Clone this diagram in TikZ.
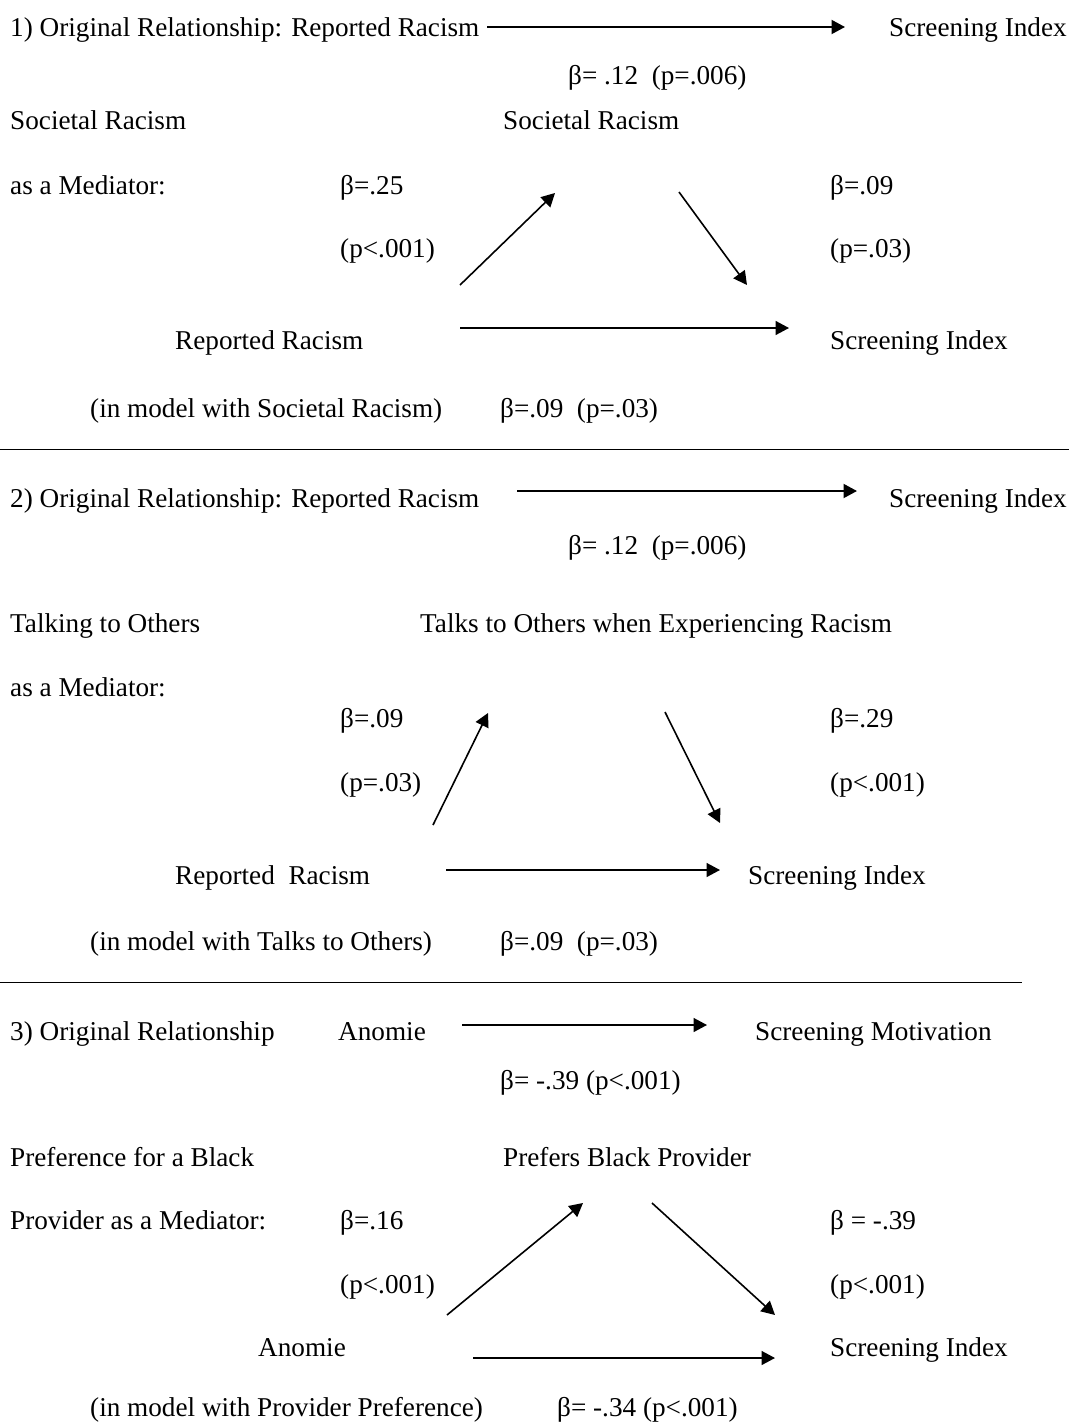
\documentclass[tikz,border=0pt]{standalone}
\usepackage{fontspec}
\setmainfont{Liberation Serif}
\usetikzlibrary{arrows.meta}

\begin{document}
\begin{tikzpicture}[x=1pt, y=-1pt,
    lbl/.style={anchor=base west, inner sep=0pt, font=\fontsize{27.2}{32}\selectfont},
    arr/.style={-{Triangle[length=13.5pt, width=14pt]}, line width=1.6pt},
    arrthick/.style={arr, line width=2pt},
    rule/.style={line width=1pt}]
  \useasboundingbox (0,0) rectangle (1069,1422);

  % Panel 1: Societal Racism
  \node[lbl] (orig1) at (10,36) {1) Original Relationship: Reported Racism};
  \node[lbl] (scr1) at (889,36) {Screening Index};
  \node[lbl] (beta1) at (568,84) {β= .12~~(p=.006)};
  \node[lbl] (soc1) at (10,129) {Societal Racism};
  \node[lbl] (socmed) at (503,129) {Societal Racism};
  \node[lbl] (asmed1) at (10,194) {as a Mediator:};
  \node[lbl] (ba1) at (340,194) {β=.25};
  \node[lbl] (bb1) at (830,194) {β=.09};
  \node[lbl] (pa1) at (340,257) {(p<.001)};
  \node[lbl] (pb1) at (830,257) {(p=.03)};
  \node[lbl] (rep1) at (175,349) {Reported Racism};
  \node[lbl] (scrm1) at (830,349) {Screening Index};
  \node[lbl] (model1) at (90,417) {(in model with Societal Racism)};
  \node[lbl] (bc1) at (500,417) {β=.09~~(p=.03)};
  \coordinate (o1s) at (487,27);  \coordinate (o1e) at (845,27);
  \coordinate (u1s) at (460,285); \coordinate (u1e) at (555,193);
  \coordinate (d1s) at (679,192); \coordinate (d1e) at (747,285);
  \coordinate (h1s) at (460,328); \coordinate (h1e) at (789,328);
  \draw[arrthick] (o1s) -- (o1e);
  \draw[arr] (u1s) -- (u1e);
  \draw[arr] (d1s) -- (d1e);
  \draw[arr] (h1s) -- (h1e);
  \coordinate (r1s) at (0,449); \coordinate (r1e) at (1069,449);
  \draw[rule] (r1s) -- (r1e);

  % Panel 2: Talking to Others
  \node[lbl] (orig2) at (10,507) {2) Original Relationship: Reported Racism};
  \node[lbl] (scr2) at (889,507) {Screening Index};
  \node[lbl] (beta2) at (568,554) {β= .12~~(p=.006)};
  \node[lbl] (talk2) at (10,632) {Talking to Others};
  \node[lbl] (talkmed) at (420,632) {Talks to Others when Experiencing Racism};
  \node[lbl] (asmed2) at (10,696) {as a Mediator:};
  \node[lbl] (ba2) at (340,727) {β=.09};
  \node[lbl] (bb2) at (830,727) {β=.29};
  \node[lbl] (pa2) at (340,791) {(p=.03)};
  \node[lbl] (pb2) at (830,791) {(p<.001)};
  \node[lbl] (rep2) at (175,884) {Reported~~Racism};
  \node[lbl] (scrm2) at (748,884) {Screening Index};
  \node[lbl] (model2) at (90,950) {(in model with Talks to Others)};
  \node[lbl] (bc2) at (500,950) {β=.09~~(p=.03)};
  \coordinate (o2s) at (517,491); \coordinate (o2e) at (857,491);
  \coordinate (u2s) at (433,825); \coordinate (u2e) at (488,713);
  \coordinate (d2s) at (665,712); \coordinate (d2e) at (720,823);
  \coordinate (h2s) at (446,870); \coordinate (h2e) at (720,870);
  \draw[arrthick] (o2s) -- (o2e);
  \draw[arr] (u2s) -- (u2e);
  \draw[arr] (d2s) -- (d2e);
  \draw[arr] (h2s) -- (h2e);
  \coordinate (r2s) at (0,982); \coordinate (r2e) at (1022,982);
  \draw[rule] (r2s) -- (r2e);

  % Panel 3: Provider Preference
  \node[lbl] (orig3) at (10,1040) {3) Original Relationship};
  \node[lbl] (anom3) at (338,1040) {Anomie};
  \node[lbl] (mot3) at (755,1040) {Screening Motivation};
  \node[lbl] (beta3) at (500,1089) {β= -.39 (p<.001)};
  \node[lbl] (pref3) at (10,1166) {Preference for a Black};
  \node[lbl] (prefmed) at (503,1166) {Prefers Black Provider};
  \node[lbl] (asmed3) at (10,1229) {Provider as a Mediator:};
  \node[lbl] (ba3) at (340,1229) {β=.16};
  \node[lbl] (bb3) at (830,1229) {β = -.39};
  \node[lbl] (pa3) at (340,1293) {(p<.001)};
  \node[lbl] (pb3) at (830,1293) {(p<.001)};
  \node[lbl] (anomm3) at (258,1356) {Anomie};
  \node[lbl] (scrm3) at (830,1356) {Screening Index};
  \node[lbl] (model3) at (90,1416) {(in model with Provider Preference)};
  \node[lbl] (bc3) at (557,1416) {β= -.34 (p<.001)};
  \coordinate (o3s) at (462,1025); \coordinate (o3e) at (707,1025);
  \coordinate (u3s) at (447,1315); \coordinate (u3e) at (583,1203);
  \coordinate (d3s) at (652,1203); \coordinate (d3e) at (775,1315);
  \coordinate (h3s) at (473,1358); \coordinate (h3e) at (775,1358);
  \draw[arr] (o3s) -- (o3e);
  \draw[arr] (u3s) -- (u3e);
  \draw[arr] (d3s) -- (d3e);
  \draw[arr] (h3s) -- (h3e);
\end{tikzpicture}
\end{document}
